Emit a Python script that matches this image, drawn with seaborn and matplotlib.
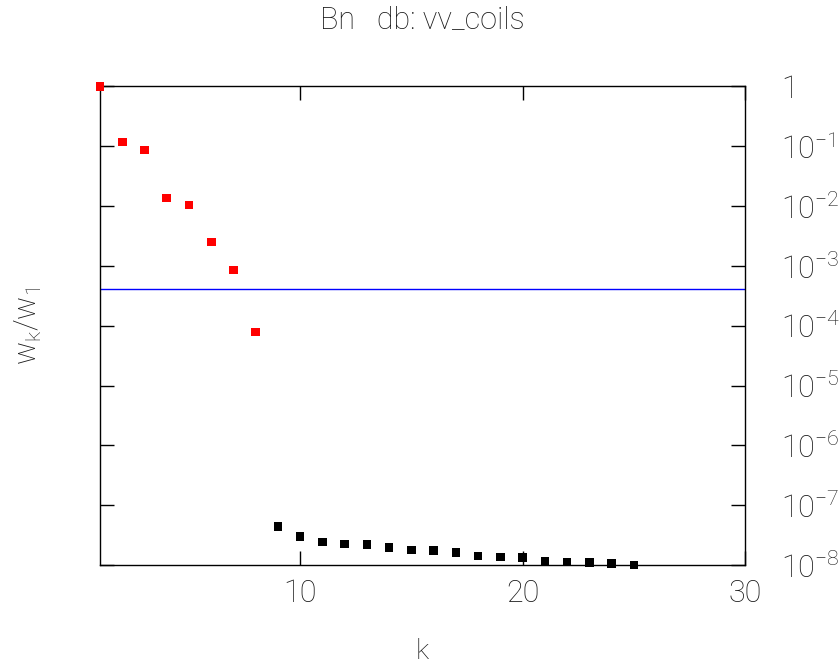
import numpy as np
import pandas as pd
import matplotlib
matplotlib.use("Agg")
import matplotlib.pyplot as plt
import seaborn as sns

# ---- data ----
k_kept = [1, 2, 3, 4, 5, 6, 7, 8]
w_kept = [1.0, 0.118, 0.0867, 0.01365, 0.0105, 0.00251, 8.5e-4, 7.85e-5]
k_drop = [9, 10, 11, 12, 13, 14, 15, 16, 17, 18, 19, 20, 21, 22, 23, 24, 25]
w_drop = [4.37e-8, 2.98e-8, 2.42e-8, 2.24e-8, 2.18e-8, 1.94e-8, 1.77e-8, 1.73e-8,
          1.60e-8, 1.41e-8, 1.37e-8, 1.32e-8, 1.16e-8, 1.13e-8, 1.09e-8, 1.05e-8, 1.0e-8]
threshold = 4.07e-4
y_ticks = [1, 1e-1, 1e-2, 1e-3, 1e-4, 1e-5, 1e-6, 1e-7, 1e-8]
y_ticklabels = ["1", r"$10^{-1}$", r"$10^{-2}$", r"$10^{-3}$", r"$10^{-4}$",
                r"$10^{-5}$", r"$10^{-6}$", r"$10^{-7}$", r"$10^{-8}$"]
x_ticks = [10, 20, 30]
title = "Bn   db: vv_coils"

df = pd.DataFrame({
    "k": k_kept + k_drop,
    "w": w_kept + w_drop,
    "grp": ["kept"] * len(k_kept) + ["drop"] * len(k_drop),
})

sns.set_theme(style="white")
plt.rcParams["font.family"] = ["Roboto", "DejaVu Sans"]
plt.rcParams["font.weight"] = "light"
plt.rcParams["mathtext.fontset"] = "custom"
plt.rcParams["mathtext.rm"] = "Roboto:light"
plt.rcParams["mathtext.it"] = "Roboto:light"
plt.rcParams["mathtext.default"] = "rm"
txt = "#1a1a1a"
plt.rcParams["text.color"] = txt
plt.rcParams["axes.labelcolor"] = txt
plt.rcParams["xtick.color"] = txt
plt.rcParams["ytick.color"] = txt

fig = plt.figure(figsize=(8.39, 6.65), dpi=100)
ax = fig.add_axes([0.1192, 0.1504, 0.888 - 0.1192, 0.870 - 0.1504])

sns.scatterplot(data=df, x="k", y="w", hue="grp", palette={"kept": "#ff0000", "drop": "#000000"},
                marker="s", s=38, linewidth=0, legend=False, ax=ax, clip_on=False, zorder=3)
ax.axhline(threshold, color="#0000ff", lw=1.0, zorder=2)

ax.set_yscale("log")
ax.set_xlim(1, 30)
ax.set_ylim(1e-8, 1)
ax.set_yticks(y_ticks)
ax.set_yticklabels(y_ticklabels)
ax.yaxis.set_minor_locator(matplotlib.ticker.NullLocator())
ax.set_xticks(x_ticks)
ax.set_xticklabels([str(v) for v in x_ticks])

ax.tick_params(axis="y", which="major", direction="in", left=True, right=True,
               labelleft=False, labelright=True, length=10, width=1, color="black",
               labelcolor=txt, pad=26, labelsize=22)
ax.tick_params(axis="x", which="major", direction="in", bottom=True, top=True,
               length=10, width=1, color="black", labelcolor=txt, pad=10, labelsize=22)
for sp in ax.spines.values():
    sp.set_color("black")
    sp.set_linewidth(1.0)
    sp.set_visible(True)

ax.set_xlabel("k", fontsize=20, labelpad=22, color=txt, fontweight="light")
ax.set_ylabel(r"$\mathrm{w_k/w_1}$", fontsize=22, labelpad=40, color=txt)
ax.set_title(title, fontsize=22, pad=42, color=txt, fontweight="light")

fig.savefig("out.png", dpi=100)
